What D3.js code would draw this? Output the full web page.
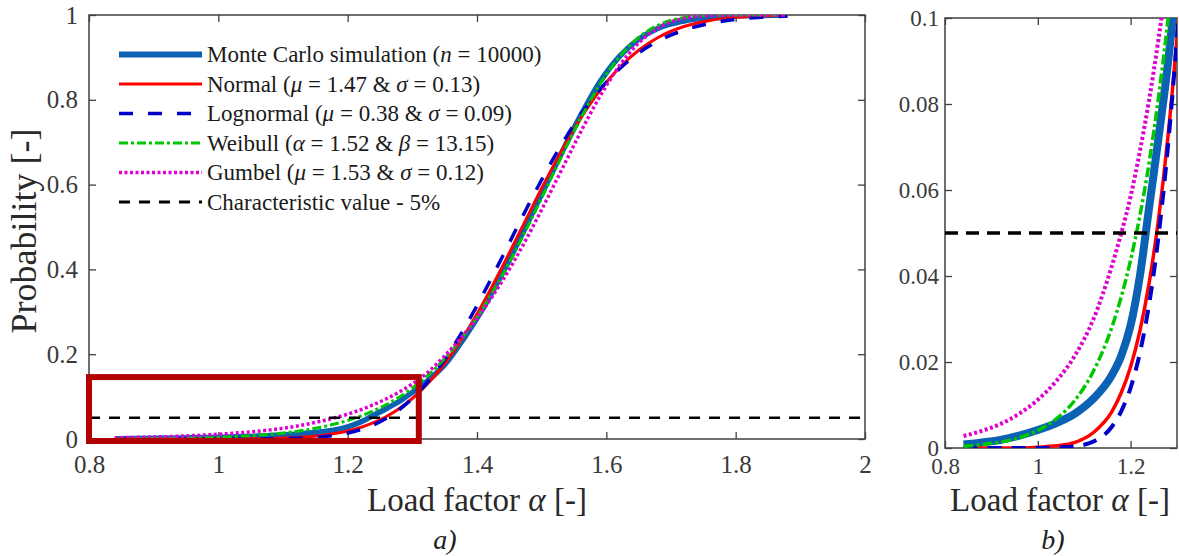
<!DOCTYPE html>
<html>
<head>
<meta charset="utf-8">
<script src="https://cdn.jsdelivr.net/npm/d3@7"></script>
<style>
  body { margin: 0; background: #fff; }
  svg, svg text { font-family: "Liberation Serif", "Times New Roman", serif; }
</style>
</head>
<body>
<div id="chart"></div>
<script>
// load factor grid (x) and CDF values
const alphaGrid = [0.84, 0.88, 0.92, 0.96, 1.00, 1.04, 1.08, 1.12, 1.16, 1.18, 1.20, 1.22, 1.24, 1.26, 1.28, 1.30, 1.32,
                   1.35, 1.38, 1.41, 1.44, 1.47, 1.50, 1.53, 1.56, 1.59, 1.62, 1.65, 1.68, 1.72, 1.76, 1.80, 1.84, 1.88];
const monteCarlo = [0.0008, 0.0013, 0.0019, 0.0029, 0.0042, 0.0058, 0.0080, 0.0115, 0.0170, 0.0215, 0.0285, 0.0400, 0.0560, 0.0720, 0.0890, 0.1100, 0.1330,
                    0.175, 0.238, 0.310, 0.393, 0.484, 0.578, 0.672, 0.762, 0.842, 0.902, 0.943, 0.969, 0.986, 0.994, 0.998, 0.999, 1.0];
const normalCdf = [0, 0, 0, 0, 0.0002, 0.0005, 0.0013, 0.0036, 0.0085, 0.0129, 0.0189, 0.0272, 0.0384, 0.0531, 0.0719, 0.0955, 0.1243,
                   0.178, 0.2444, 0.3222, 0.4087, 0.5, 0.5913, 0.6778, 0.7556, 0.822, 0.8757, 0.917, 0.9469, 0.9728, 0.9872, 0.9944, 0.9978, 0.9992];
const lognormalCdf = [0, 0, 0, 0, 0, 0.0001, 0.0004, 0.0015, 0.005, 0.0086, 0.014, 0.0221, 0.0335, 0.0491, 0.0696, 0.0956, 0.1276,
                      0.1873, 0.2601, 0.3431, 0.4321, 0.5235, 0.6114, 0.6925, 0.764, 0.8238, 0.8724, 0.9102, 0.9385, 0.9643, 0.9802, 0.9895, 0.9947, 0.9974];
const weibullCdf = [0.0004, 0.0008, 0.0014, 0.0024, 0.0041, 0.0068, 0.0111, 0.0179, 0.0282, 0.0352, 0.0437, 0.054, 0.0664, 0.0814, 0.0991, 0.1201, 0.1448,
                    0.1896, 0.2446, 0.3109, 0.3881, 0.4749, 0.5684, 0.6638, 0.7552, 0.8359, 0.9009, 0.9473, 0.976, 0.9938, 0.999, 0.9999, 1, 1];
const gumbelCdf = [0.0028, 0.0040, 0.0056, 0.0080, 0.0112, 0.0156, 0.0215, 0.0300, 0.0425, 0.0500, 0.0585, 0.0690, 0.0810, 0.0950, 0.1110, 0.1300, 0.1520,
                   0.1960, 0.2470, 0.3060, 0.3750, 0.4540, 0.5410, 0.6321, 0.7231, 0.8077, 0.8796, 0.934, 0.9695, 0.9923, 0.9989, 0.9999, 1, 1];
const charValue = 0.05;

// legend labels, _x_ = italic
const legendLabels = [
  "Monte Carlo simulation (_n_ = 10000)",
  "Normal (_μ_ = 1.47 & _σ_ = 0.13)",
  "Lognormal (_μ_ = 0.38 & _σ_ = 0.09)",
  "Weibull (_α_ = 1.52 & _β_ = 13.15)",
  "Gumbel (_μ_ = 1.53 & _σ_ = 0.12)",
  "Characteristic value - 5%"
];

const xTicksA = [0.8, 1, 1.2, 1.4, 1.6, 1.8, 2];
const yTicksA = [0, 0.2, 0.4, 0.6, 0.8, 1];
const xTicksB = [0.8, 1, 1.2];
const yTicksB = [0, 0.02, 0.04, 0.06, 0.08, 0.1];
const zoomBox = [0.8, 1.31, 0, 0.146]; // red frame in panel a

const width = 1179, height = 556;
const serif = "Liberation Serif, Times New Roman, serif";
const svg = d3.select("#chart").append("svg").attr("width", width).attr("height", height);

// series styles: colour, widths and dashes for panel a / panel b
const series = [
  {v: monteCarlo,   c: "#0b61b4", wa: 5.5, wb: 8,   da: null,        db: null},
  {v: normalCdf,    c: "#ff0000", wa: 3,   wb: 3.5, da: null,        db: null},
  {v: lognormalCdf, c: "#0000c8", wa: 3.5, wb: 4,   da: "14,15",     db: "14,10"},
  {v: weibullCdf,   c: "#00c800", wa: 3,   wb: 3.5, da: "9,3,3,3",   db: "10,3,3,3"},
  {v: gumbelCdf,    c: "#e000d0", wa: 3.5, wb: 4,   da: "3,2.5",     db: "3,2.5"}
];

function fmt(d) { return d === 0 ? "0" : d3.format("~g")(d); }

function drawPanel(p) {
  const x = d3.scaleLinear().domain(p.xd).range([p.left, p.right]);
  const y = d3.scaleLinear().domain(p.yd).range([p.bottom, p.top]);
  const g = svg.append("g");

  const clipId = "clip" + p.name;
  svg.append("clipPath").attr("id", clipId)
     .append("rect").attr("x", p.left).attr("y", p.top)
     .attr("width", p.right - p.left).attr("height", p.bottom - p.top);

  // axes with inward ticks, MATLAB style
  const axB = g.append("g").attr("transform", `translate(0,${p.bottom})`)
    .call(d3.axisBottom(x).tickValues(p.xt).tickFormat(fmt).tickSizeInner(-7).tickSizeOuter(0).tickPadding(p.xpad));
  const axL = g.append("g").attr("transform", `translate(${p.left},0)`)
    .call(d3.axisLeft(y).tickValues(p.yt).tickFormat(fmt).tickSizeInner(-7).tickSizeOuter(0).tickPadding(p.ypad));
  const axT = g.append("g").attr("transform", `translate(0,${p.top})`)
    .call(d3.axisTop(x).tickValues(p.xt).tickFormat("").tickSizeInner(-7).tickSizeOuter(0));
  const axR = g.append("g").attr("transform", `translate(${p.right},0)`)
    .call(d3.axisRight(y).tickValues(p.yt).tickFormat("").tickSizeInner(-7).tickSizeOuter(0));
  [axB, axL, axT, axR].forEach(a => {
    a.attr("font-family", null).attr("font-size", null);
    a.select(".domain").remove();
    a.selectAll("line").attr("stroke", "#404040").attr("stroke-width", 1.3);
    a.selectAll("text")
      .style("font-family", serif)
      .style("font-size", p.tickFont + "px")
      .attr("fill", "#3a3a3a");
  });
  g.append("rect").attr("x", p.left).attr("y", p.top)
   .attr("width", p.right - p.left).attr("height", p.bottom - p.top)
   .attr("fill", "none").attr("stroke", "#404040").attr("stroke-width", 1.5);

  const plot = g.append("g").attr("clip-path", `url(#${clipId})`);
  const line = d3.line().x((d, i) => x(alphaGrid[i])).y(d => y(d)).curve(d3.curveMonotoneX);

  series.forEach(s => {
    plot.append("path").datum(s.v)
      .attr("d", line)
      .attr("fill", "none")
      .attr("stroke", s.c)
      .attr("stroke-width", p.name === "a" ? s.wa : s.wb)
      .attr("stroke-dasharray", p.name === "a" ? s.da : s.db);
  });

  // 5% characteristic value
  plot.append("line")
    .attr("x1", x(p.xd[0])).attr("x2", x(p.xd[1]))
    .attr("y1", y(charValue)).attr("y2", y(charValue))
    .attr("stroke", "#000").attr("stroke-width", p.name === "a" ? 2.5 : 3.5)
    .attr("stroke-dasharray", p.name === "a" ? "11,9" : "13,8");

  // axis titles
  const xl = svg.append("text")
    .attr("x", p.xlabX).attr("y", 511)
    .attr("text-anchor", "middle").style("font-size", "33px").attr("fill", "#2a2a2a");
  xl.append("tspan").text("Load factor ");
  xl.append("tspan").style("font-style", "italic").text("α");
  xl.append("tspan").text(" [-]");

  svg.append("text")
    .attr("x", p.capX).attr("y", 549)
    .attr("text-anchor", "middle").style("font-size", "28px").style("font-style", "italic")
    .attr("fill", "#222").text(p.name + ")");

  return {x, y, g};
}

const A = drawPanel({name: "a", left: 89, right: 865, top: 15, bottom: 439, xd: [0.8, 2], yd: [0, 1],
                     xt: xTicksA, yt: yTicksA, xpad: 16, ypad: 11, tickFont: 25, xlabX: 477, capX: 445});
const B = drawPanel({name: "b", left: 945, right: 1177, top: 18, bottom: 448, xd: [0.8, 1.3], yd: [0, 0.1],
                     xt: xTicksB, yt: yTicksB, xpad: 10, ypad: 6, tickFont: 23, xlabX: 1060, capX: 1053});

// y title
svg.append("text")
  .attr("transform", "translate(36,231) rotate(-90)")
  .attr("text-anchor", "middle").style("font-size", "36px").attr("fill", "#2a2a2a")
  .text("Probability [-]");

// red frame marking the zoomed region
A.g.append("rect")
  .attr("x", A.x(zoomBox[0])).attr("y", A.y(zoomBox[3]))
  .attr("width", A.x(zoomBox[1]) - A.x(zoomBox[0]))
  .attr("height", A.y(zoomBox[2]) - A.y(zoomBox[3]) + 2)
  .attr("fill", "none").attr("stroke", "#b30000").attr("stroke-width", 6);

// legend
const legendStyles = series.map(s => ({c: s.c, w: s.wa, d: s.da}))
  .concat([{c: "#000", w: 3, d: "11,9"}]);
const leg = svg.append("g");
legendLabels.forEach((lab, i) => {
  const yy = 54.5 + i * 29.5;
  const st = legendStyles[i];
  leg.append("line").attr("x1", 119).attr("x2", 202).attr("y1", yy).attr("y2", yy)
    .attr("stroke", st.c).attr("stroke-width", i === 0 ? 6 : st.w).attr("stroke-dasharray", st.d);
  const t = leg.append("text").attr("x", 207).attr("y", yy).attr("dy", "0.33em")
    .style("font-size", "23px").attr("fill", "#1a1a1a");
  lab.split("_").forEach((part, k) => {
    if (part === "") return;
    t.append("tspan").style("font-style", k % 2 ? "italic" : "normal").text(part);
  });
});
</script>
</body>
</html>
